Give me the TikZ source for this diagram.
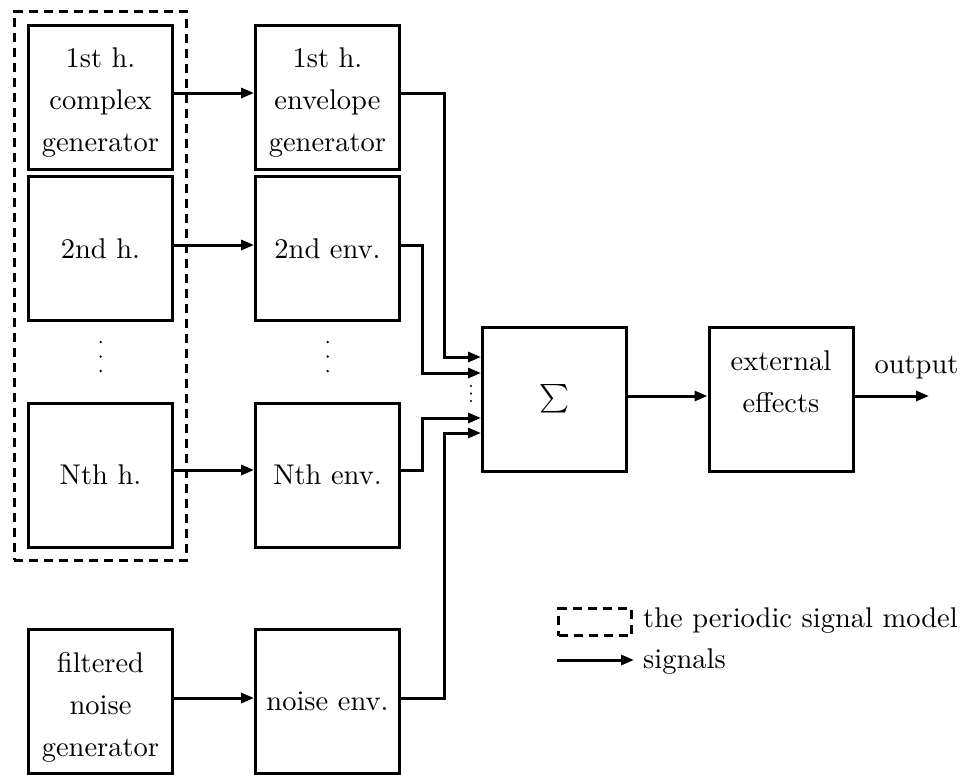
\documentclass[tikz,border=0pt]{standalone}
\usepackage{fontspec}
\setmainfont{lmroman10-regular}[Extension=.otf]
\usetikzlibrary{arrows.meta,calc}
\newcommand\diagfont{\fontsize{28.5}{42}\selectfont}
\begin{document}
\begin{tikzpicture}[x=1pt,y=-1pt,
  box/.style={draw,line width=3pt,minimum width=144pt,minimum height=144pt,inner sep=0pt,font=\diagfont,align=center},
  txt/.style={inner sep=0pt,align=center,font=\diagfont},
  sig/.style={line width=3pt,-{Triangle[length=13pt,width=10pt]}},
  pm/.style={draw,line width=3pt,dash pattern=on 9pt off 6pt,inner sep=0pt},
  dot/.style={fill=black}
]
\useasboundingbox (0,0) rectangle (971,774);

% periodic model frame
\node[pm,minimum width=172.3pt,minimum height=548.7pt] (pmb) at (100.35,285.85) {};

% generators
\node[box] (g1) at (100.5,97) {};
\node[txt] (g1t) at ([yshift=-6pt]g1.center) {1st h.\\complex\\generator};
\node[box] (g2) at (100.5,248.5) {2nd h.};
\node[box] (gN) at (100.5,475) {Nth h.};
\node[box] (gn) at (100.5,701.5) {};
\node[txt] (gnt) at ([yshift=-6pt]gn.center) {filtered\\noise\\generator};

% envelopes
\node[box] (e1) at (327.5,97) {};
\node[txt] (e1t) at ([yshift=-6pt]e1.center) {1st h.\\envelope\\generator};
\node[box] (e2) at (327.5,248.5) {2nd env.};
\node[box] (eN) at (327.5,475) {Nth env.};
\node[box] (en) at (327.5,701.5) {noise env.};

% sum and external effects
\node[box] (s) at (554.5,399) {\normalsize\scalebox{2.85}{$\textstyle\sum$}};
\node[box] (x) at (781,399) {};
\node[txt] (xt) at ([yshift=17pt]x.center) {external\\effects};
\node[txt,anchor=base] (out) at (916.5,373) {output};
\coordinate (oend) at (929,396);

% vertical dots
\foreach \yy in {342,356.5,371} {
  \fill[dot] (100.7,\yy) circle (1.3pt);
  \fill[dot] (327.7,\yy) circle (1.3pt);
}
\foreach \yy in {386,393.5,401} {
  \fill[dot] (471,\yy) circle (1.1pt);
}

% signals generator -> envelope
\draw[sig] ([yshift=4pt]g1.east) -- ([yshift=4pt]e1.west);
\draw[sig] ([yshift=3.5pt]g2.east) -- ([yshift=3.5pt]e2.west);
\draw[sig] ([yshift=5pt]gN.east) -- ([yshift=5pt]eN.west);
\draw[sig] ([yshift=3.5pt]gn.east) -- ([yshift=3.5pt]en.west);

% envelopes -> sum
\draw[sig] ([yshift=4pt]e1.east) -| ([xshift=-37pt,yshift=42pt]s.west) -- ([yshift=42pt]s.west);
\draw[sig] ([yshift=3.5pt]e2.east) -| ([xshift=-58.5pt,yshift=26pt]s.west) -- ([yshift=26pt]s.west);
\draw[sig] ([yshift=5pt]eN.east) -| ([xshift=-58.5pt,yshift=-19pt]s.west) -- ([yshift=-19pt]s.west);
\draw[sig] ([yshift=3.5pt]en.east) -| ([xshift=-37pt,yshift=-34pt]s.west) -- ([yshift=-34pt]s.west);

% sum -> external -> output
\draw[sig] ([yshift=3pt]s.east) -- ([yshift=3pt]x.west);
\draw[sig] ([yshift=3pt]x.east) -- (oend);

% legend
\node[pm,minimum width=73pt,minimum height=27pt] (lgd) at (595,622) {};
\node[txt,anchor=base west] (lgdt) at (643,627) {the periodic signal model};
\coordinate (sa) at (557,660);
\coordinate (sb) at (634,660);
\draw[sig] (sa) -- (sb);
\node[txt,anchor=base west] (sigt) at (643,668) {signals};
\end{tikzpicture}
\end{document}
